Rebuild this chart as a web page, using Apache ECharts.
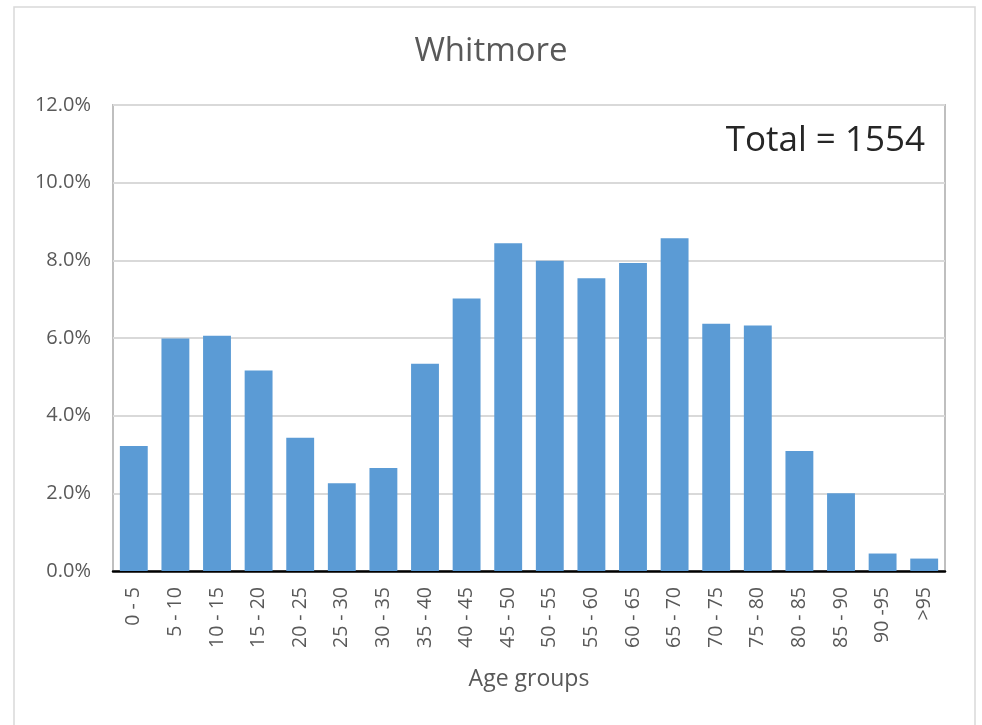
<!DOCTYPE html>
<html>
<head>
<meta charset="utf-8">
<script src="https://cdn.jsdelivr.net/npm/echarts@6/dist/echarts.min.js"></script>
<style>
	html, body { margin: 0; padding: 0; background: #fff; }
	#chart { width: 982px; height: 725px; }
</style>
</head>
<body>
<div id="chart"></div>
<script>
// age groups and share of population (%)
const categories = ['0 - 5', '5 - 10', '10 - 15', '15 - 20', '20 - 25', '25 - 30', '30 - 35', '35 - 40', '40 - 45', '45 - 50',
	'50 - 55', '55 - 60', '60 - 65', '65 - 70', '70 - 75', '75 - 80', '80 - 85', '85 - 90', '90 -95', '>95'];
const shares = [3.22, 5.99, 6.06, 5.16, 3.43, 2.26, 2.65, 5.34, 7.02, 8.44,
	7.99, 7.54, 7.93, 8.57, 6.37, 6.32, 3.09, 2.00, 0.45, 0.32];
const yTicks = [0, 2, 4, 6, 8, 10, 12];
const totalText = 'Total = 1554';

const font = '"Open Sans", Lato, sans-serif';
const chart = echarts.init(document.getElementById('chart'));

chart.setOption({
	backgroundColor: '#fff',
	animation: false,
	title: {
		text: 'Whitmore',
		left: 'center',
		top: 30,
		textStyle: { fontFamily: font, fontSize: 33, fontWeight: 'normal', color: '#595959' }
	},
	graphic: [
		{
			type: 'rect',
			shape: { x: 14, y: 7, width: 961, height: 730 },
			style: { fill: 'none', stroke: '#d9d9d9', lineWidth: 1.5 },
			silent: true
		},
		{
			type: 'text',
			right: 57,
			top: 124,
			style: { text: totalText, fontFamily: font, fontSize: 35, fill: '#262626' }
		}
	],
	grid: {
		left: 113,
		right: 37,
		top: 105,
		bottom: 154,
		show: true,
		borderColor: '#bfbfbf',
		borderWidth: 2
	},
	xAxis: {
		type: 'category',
		data: categories,
		name: 'Age groups',
		nameLocation: 'middle',
		nameGap: 97,
		nameTextStyle: { fontFamily: font, fontSize: 23, color: '#595959' },
		axisLine: { lineStyle: { color: '#000', width: 2.5 } },
		axisTick: { show: false },
		axisLabel: {
			rotate: 90,
			interval: 0,
			margin: 16,
			fontFamily: font,
			fontSize: 19.5,
			color: '#595959'
		}
	},
	yAxis: {
		type: 'value',
		min: yTicks[0],
		max: yTicks[yTicks.length - 1],
		interval: 2,
		axisLine: { show: false },
		axisTick: { show: false },
		splitLine: { lineStyle: { color: '#d9d9d9', width: 2 } },
		axisLabel: {
			margin: 22,
			fontFamily: font,
			fontSize: 20,
			color: '#595959',
			formatter: v => v.toFixed(1) + '%'
		}
	},
	series: [
		{
			type: 'bar',
			data: shares,
			barWidth: '67%',
			itemStyle: { color: '#5b9bd5' }
		}
	]
});
</script>
</body>
</html>
